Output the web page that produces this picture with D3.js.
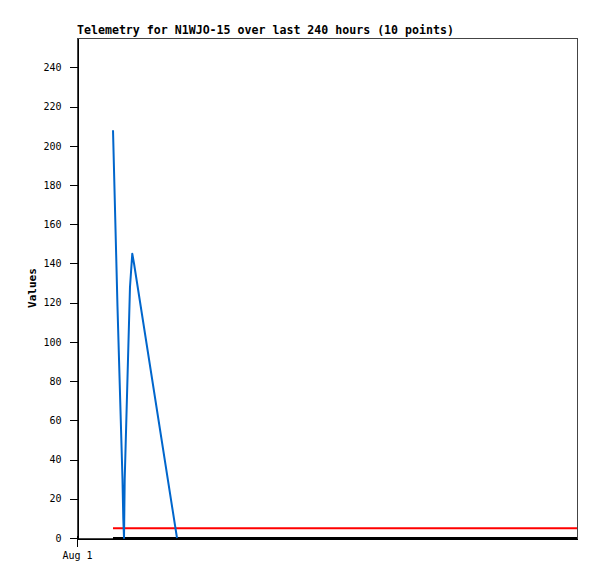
<!DOCTYPE html>
<html>
<head>
<meta charset="utf-8">
<script src="https://cdn.jsdelivr.net/npm/d3@7"></script>
<style>
  html, body { margin: 0; padding: 0; background: #fff; }
  svg { display: block; }
</style>
</head>
<body>
<svg id="chart" width="597" height="579"></svg>
<script>
// ---- data ----
const titleText = "Telemetry for N1WJO-15 over last 240 hours (10 points)";
const yAxisLabel = "Values";
const xDomain = ["2023-08-01T00:00:00Z", "2023-08-11T00:00:00Z"];
const xTickValues = ["2023-08-01T00:00:00Z"];
const yTickValues = [0, 20, 40, 60, 80, 100, 120, 140, 160, 180, 200, 220, 240];
const yMax = 255;

// telemetry series (10 points)
const valueTimes = [
  "2023-08-01T17:17:00Z", "2023-08-01T19:26:00Z", "2023-08-01T21:50:00Z",
  "2023-08-01T22:13:00Z", "2023-08-01T22:34:00Z", "2023-08-01T22:54:00Z",
  "2023-08-02T01:26:00Z", "2023-08-02T02:32:00Z", "2023-08-02T03:22:00Z",
  "2023-08-03T00:00:00Z"
];
const values = [208, 118, 30, 10, 0, 30, 128, 145, 140, 0];

// reference lines
const refTimes = ["2023-08-01T17:17:00Z", "2023-08-11T00:00:00Z"];
const redValues = [5, 5];
const blackValues = [0, 0];

// ---- layout ----
const margin = { left: 77, top: 38, right: 20, bottom: 41 };
const W = 597, H = 579;
const iw = W - margin.left - margin.right;   // 500
const ih = H - margin.top - margin.bottom;   // 500

const svg = d3.select("#chart");
const g = svg.append("g").attr("transform", `translate(${margin.left},${margin.top})`);

const x = d3.scaleUtc().domain(xDomain.map(d => new Date(d))).range([0, iw]);
const y = d3.scaleLinear().domain([0, yMax]).range([ih, 0]);

// frame
g.append("rect")
  .attr("x", 0.5).attr("y", 0.5)
  .attr("width", iw).attr("height", ih)
  .attr("fill", "none").attr("stroke", "#444").attr("stroke-width", 1)
  .attr("shape-rendering", "crispEdges");

// y axis
const yAxis = d3.axisLeft(y).tickValues(yTickValues).tickSize(8).tickPadding(8).tickSizeOuter(0);
const gy = g.append("g").attr("transform", "translate(0.5,0)").call(yAxis);
gy.selectAll("text")
  .attr("font-family", "'DejaVu Sans Mono', monospace")
  .attr("font-size", "10px").attr("fill", "#000");
gy.select(".domain").attr("stroke", "#000").attr("shape-rendering", "crispEdges");
gy.selectAll(".tick line").attr("stroke", "#000").attr("shape-rendering", "crispEdges");

// x axis
const xAxis = d3.axisBottom(x).tickValues(xTickValues.map(d => new Date(d)))
  .tickFormat(d3.utcFormat("%b %-d")).tickSize(8).tickPadding(5).tickSizeOuter(0);
const gx = g.append("g").attr("transform", `translate(0,${ih + 0.5})`).call(xAxis);
gx.selectAll("text")
  .attr("font-family", "'DejaVu Sans Mono', monospace")
  .attr("font-size", "10px").attr("fill", "#000");
gx.select(".domain").attr("stroke", "#000").attr("shape-rendering", "crispEdges");
gx.selectAll(".tick line").attr("stroke", "#000").attr("y1", -3).attr("shape-rendering", "crispEdges");
gx.selectAll(".tick").attr("transform", d => `translate(${x(d) + 0.5},0)`);

// lines
const line = d3.line().x(d => x(d[0])).y(d => y(d[1]));

const blackData = refTimes.map((t, i) => [new Date(t), blackValues[i]]);
g.append("path").datum(blackData).attr("d", line)
  .attr("fill", "none").attr("stroke", "#000").attr("stroke-width", 2);

const redData = refTimes.map((t, i) => [new Date(t), redValues[i]]);
g.append("path").datum(redData).attr("d", line)
  .attr("fill", "none").attr("stroke", "#ff0000").attr("stroke-width", 2);

const blueData = valueTimes.map((t, i) => [new Date(t), values[i]]);
g.append("path").datum(blueData).attr("d", line)
  .attr("fill", "none").attr("stroke", "#0066cc").attr("stroke-width", 2)
  .attr("stroke-linejoin", "round");

// title
svg.append("text")
  .attr("x", margin.left).attr("y", 34)
  .attr("font-family", "'DejaVu Sans Mono', monospace")
  .attr("font-weight", "bold").attr("font-size", "11.6px")
  .text(titleText);

// y label
svg.append("text")
  .attr("transform", `translate(36,${margin.top + ih / 2}) rotate(-90)`)
  .attr("text-anchor", "middle")
  .attr("font-family", "'DejaVu Sans Mono', monospace")
  .attr("font-weight", "bold").attr("font-size", "11px")
  .text(yAxisLabel);
</script>
</body>
</html>
